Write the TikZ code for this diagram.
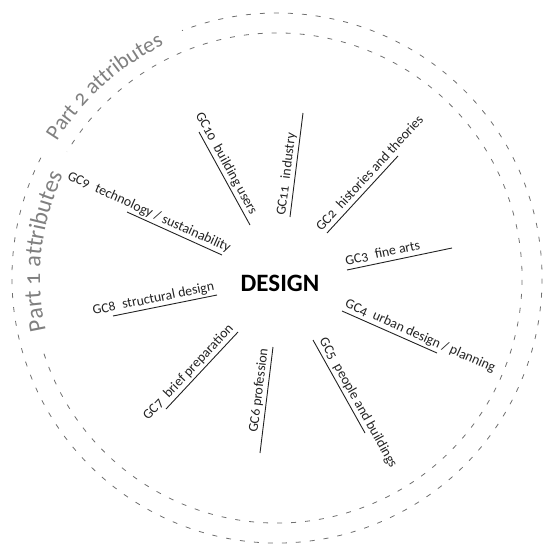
\documentclass[tikz,border=0pt]{standalone}
\usepackage{fontspec}
\setmainfont{Carlito}[Numbers=OldStyle]
\usetikzlibrary{calc,decorations.text}
\definecolor{ink}{HTML}{222222}
\definecolor{ring}{HTML}{707070}
\definecolor{parttxt}{HTML}{808080}
\begin{document}
\begin{tikzpicture}[x=1pt,y=1pt,
  ringline/.style={draw=ring, line width=0.8pt, dash pattern=on 5pt off 9pt},
  spoke/.style={draw=ink, line width=0.9pt},
  lab/.style={sloped, anchor=south west, text depth=0pt, inner xsep=0pt, inner ysep=4.5pt,
              font=\fontsize{13.8}{14}\selectfont, text=ink},
  parttext/.style 2 args={decorate, decoration={text along path, text align=center,
              text={|\fontsize{#1}{#1}\selectfont\color{parttxt}|#2}}}
]
\useasboundingbox (0,0) rectangle (544,-548);
\coordinate (C) at (277,-278);

% rings (gaps where the ring labels sit)
\draw[ringline] ($(C)+(153:265)$) arc[start angle=153, end angle=471, radius=265];
\draw[ringline] ($(C)+(198:245)$) arc[start angle=198, end angle=509, radius=245];

% ring labels
\path[parttext={22}{Part 2 attributes}] ($(C)+(153:259)$) arc[start angle=153, end angle=111, radius=259];
\path[parttext={24}{Part 1 attributes}] ($(C)+(197:237)$) arc[start angle=197, end angle=150, radius=237];

% centre
\node[font=\fontsize{25}{25}\selectfont\bfseries, text=black] (design) at (280,-283) {DESIGN};

% spokes
\coordinate (a2) at (327,-233);  \coordinate (b2) at (398,-156);
\coordinate (a3) at (347,-270);  \coordinate (b3) at (452,-248);
\coordinate (a4) at (342,-311);  \coordinate (b4) at (437,-353);
\coordinate (a5) at (313,-340);  \coordinate (b5) at (365,-433);
\coordinate (a6) at (260,-453);  \coordinate (b6) at (273,-347);
\coordinate (a7) at (166,-409);  \coordinate (b7) at (238,-332);
\coordinate (a8) at (113,-316);  \coordinate (b8) at (217,-295);
\coordinate (a9) at (127,-212);  \coordinate (b9) at (222,-255);
\coordinate (a10) at (199,-132); \coordinate (b10) at (250,-225);
\coordinate (a11) at (290,-217); \coordinate (b11) at (303,-113);

\draw[spoke] (a2) -- (b2) node[lab, pos=-0.03] (t2) {GC2\enspace histories and theories};
\draw[spoke] (a3) -- (b3) node[lab, pos=0.0] (t3) {GC3\enspace fine arts};
\draw[spoke] (a4) -- (b4) node[lab, pos=0.0] (t4) {GC4\enspace urban design / planning};
\draw[spoke] (a5) -- (b5) node[lab, pos=0.03] (t5) {GC5\enspace people and buildings};
\draw[spoke] (a6) -- (b6) node[lab, pos=0.18] (t6) {GC6 profession};
\draw[spoke] (a7) -- (b7) node[lab, pos=-0.2] (t7) {GC7\enspace brief preparation};
\draw[spoke] (a8) -- (b8) node[lab, pos=-0.18] (t8) {GC8\enspace structural design};
\draw[spoke] (a9) -- (b9) node[lab, pos=-0.66] (t9) {GC9\enspace technology / sustainability};
\draw[spoke] (a10) -- (b10) node[lab, pos=-0.16] (t10) {GC10\enspace building users};
\draw[spoke] (a11) -- (b11) node[lab, pos=0.0] (t11) {GC11\enspace industry};
\end{tikzpicture}
\end{document}
